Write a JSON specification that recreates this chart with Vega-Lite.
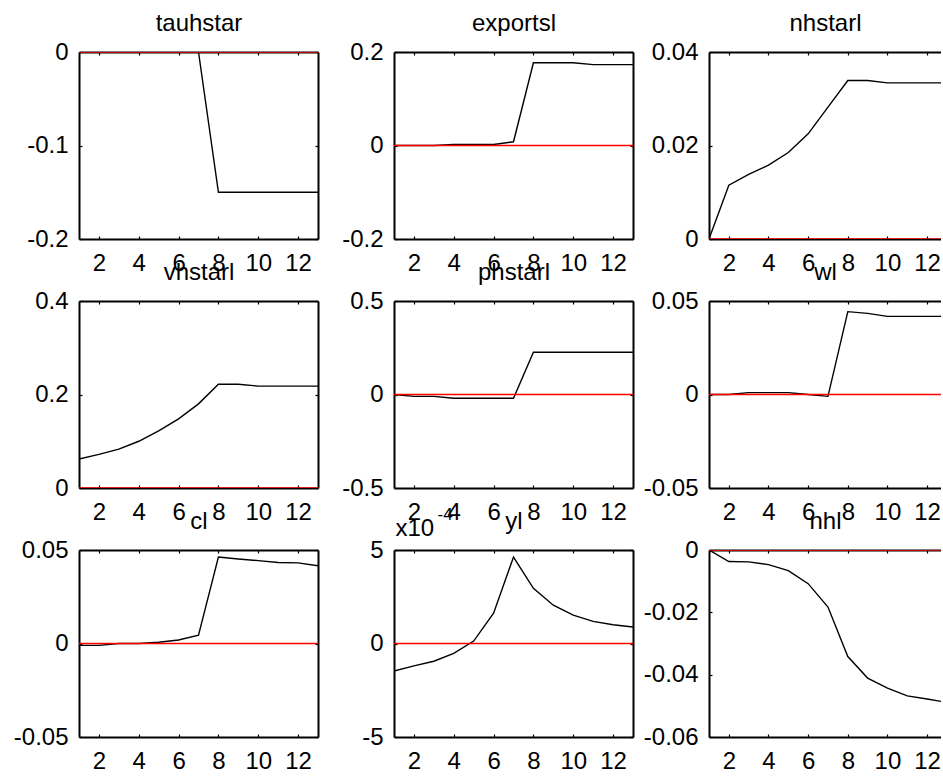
{
  "$schema": "https://vega.github.io/schema/vega-lite/v6.json",
  "padding": {"left": 13, "top": 11, "right": 0, "bottom": 0},
  "background": "white",
  "data": {
    "values": [
      {"t": 1, "tauhstar": 0, "exportsl": 0, "nhstarl": 0, "vhstarl": 0.062, "phstarl": 0, "wl": 0, "cl": -0.001, "yl": -0.000147, "nhl": 0},
      {"t": 2, "tauhstar": 0, "exportsl": 0, "nhstarl": 0.0115, "vhstarl": 0.072, "phstarl": -0.01, "wl": 0, "cl": -0.001, "yl": -0.00012, "nhl": -0.0037},
      {"t": 3, "tauhstar": 0, "exportsl": 0, "nhstarl": 0.0138, "vhstarl": 0.083, "phstarl": -0.01, "wl": 0.001, "cl": 0, "yl": -0.000095, "nhl": -0.0038},
      {"t": 4, "tauhstar": 0, "exportsl": 0.002, "nhstarl": 0.0158, "vhstarl": 0.1, "phstarl": -0.02, "wl": 0.001, "cl": 0, "yl": -0.000053, "nhl": -0.0047},
      {"t": 5, "tauhstar": 0, "exportsl": 0.002, "nhstarl": 0.0185, "vhstarl": 0.122, "phstarl": -0.02, "wl": 0.001, "cl": 0.0007, "yl": 0.000013, "nhl": -0.0066},
      {"t": 6, "tauhstar": 0, "exportsl": 0.002, "nhstarl": 0.0225, "vhstarl": 0.148, "phstarl": -0.02, "wl": 0, "cl": 0.0019, "yl": 0.000162, "nhl": -0.0108},
      {"t": 7, "tauhstar": 0, "exportsl": 0.008, "nhstarl": 0.0282, "vhstarl": 0.18, "phstarl": -0.02, "wl": -0.001, "cl": 0.0044, "yl": 0.000462, "nhl": -0.0183},
      {"t": 8, "tauhstar": -0.15, "exportsl": 0.177, "nhstarl": 0.0339, "vhstarl": 0.222, "phstarl": 0.226, "wl": 0.0443, "cl": 0.0462, "yl": 0.000295, "nhl": -0.0342},
      {"t": 9, "tauhstar": -0.15, "exportsl": 0.177, "nhstarl": 0.0339, "vhstarl": 0.222, "phstarl": 0.226, "wl": 0.0434, "cl": 0.0452, "yl": 0.000205, "nhl": -0.0411},
      {"t": 10, "tauhstar": -0.15, "exportsl": 0.177, "nhstarl": 0.0334, "vhstarl": 0.218, "phstarl": 0.226, "wl": 0.0418, "cl": 0.0443, "yl": 0.000152, "nhl": -0.0443},
      {"t": 11, "tauhstar": -0.15, "exportsl": 0.173, "nhstarl": 0.0334, "vhstarl": 0.218, "phstarl": 0.226, "wl": 0.0418, "cl": 0.0433, "yl": 0.000118, "nhl": -0.0468},
      {"t": 12, "tauhstar": -0.15, "exportsl": 0.173, "nhstarl": 0.0334, "vhstarl": 0.218, "phstarl": 0.226, "wl": 0.0418, "cl": 0.0431, "yl": 0.0001, "nhl": -0.0478},
      {"t": 13, "tauhstar": -0.15, "exportsl": 0.173, "nhstarl": 0.0334, "vhstarl": 0.218, "phstarl": 0.226, "wl": 0.0418, "cl": 0.0416, "yl": 0.000088, "nhl": -0.0489}
    ]
  },
  "columns": 3,
  "spacing": {"row": 62, "column": 76},
  "bounds": "flush",
  "concat": [
    {
      "width": 239, "height": 187,
      "layer": [
        {"mark": {"type": "line", "color": "black", "strokeWidth": 1.4, "clip": true},
         "encoding": {
           "x": {"field": "t", "type": "quantitative", "scale": {"domain": [1, 13]}, "axis": {"orient": "bottom", "title": null, "values": [2, 4, 6, 8, 10, 12]}},
           "y": {"field": "tauhstar", "type": "quantitative", "scale": {"domain": [-0.2, 0], "nice": false, "zero": false}, "axis": {"orient": "left", "title": null, "values": [-0.2, -0.1, 0], "labelExpr": "datum.value + ''"}}}},
        {"mark": {"type": "line", "color": "red", "strokeWidth": 1.6, "clip": true},
         "encoding": {
           "x": {"field": "t", "type": "quantitative", "scale": {"domain": [1, 13]}, "axis": {"orient": "top", "title": "tauhstar", "labels": false, "titleY": -22, "titleBaseline": "alphabetic", "values": [2, 4, 6, 8, 10, 12]}},
           "y": {"datum": 0, "type": "quantitative", "scale": {"domain": [-0.2, 0], "nice": false, "zero": false}, "axis": {"orient": "right", "title": null, "labels": false, "values": [-0.2, -0.1, 0]}}}}
      ],
      "resolve": {"axis": {"x": "independent", "y": "independent"}}
    },
    {
      "width": 239, "height": 187,
      "layer": [
        {"mark": {"type": "line", "color": "black", "strokeWidth": 1.4, "clip": true},
         "encoding": {
           "x": {"field": "t", "type": "quantitative", "scale": {"domain": [1, 13]}, "axis": {"orient": "bottom", "title": null, "values": [2, 4, 6, 8, 10, 12]}},
           "y": {"field": "exportsl", "type": "quantitative", "scale": {"domain": [-0.2, 0.2], "nice": false, "zero": false}, "axis": {"orient": "left", "title": null, "values": [-0.2, 0, 0.2], "labelExpr": "datum.value + ''"}}}},
        {"mark": {"type": "line", "color": "red", "strokeWidth": 1.6, "clip": true},
         "encoding": {
           "x": {"field": "t", "type": "quantitative", "scale": {"domain": [1, 13]}, "axis": {"orient": "top", "title": "exportsl", "labels": false, "titleY": -22, "titleBaseline": "alphabetic", "values": [2, 4, 6, 8, 10, 12]}},
           "y": {"datum": 0, "type": "quantitative", "scale": {"domain": [-0.2, 0.2], "nice": false, "zero": false}, "axis": {"orient": "right", "title": null, "labels": false, "values": [-0.2, 0, 0.2]}}}}
      ],
      "resolve": {"axis": {"x": "independent", "y": "independent"}}
    },
    {
      "width": 232, "height": 187,
      "layer": [
        {"mark": {"type": "line", "color": "black", "strokeWidth": 1.4, "clip": true},
         "encoding": {
           "x": {"field": "t", "type": "quantitative", "scale": {"domain": [1, 12.7]}, "axis": {"orient": "bottom", "title": null, "values": [2, 4, 6, 8, 10, 12]}},
           "y": {"field": "nhstarl", "type": "quantitative", "scale": {"domain": [0, 0.04], "nice": false, "zero": false}, "axis": {"orient": "left", "title": null, "values": [0, 0.02, 0.04], "labelExpr": "datum.value + ''"}}}},
        {"mark": {"type": "line", "color": "red", "strokeWidth": 1.6, "clip": true},
         "encoding": {
           "x": {"field": "t", "type": "quantitative", "scale": {"domain": [1, 12.7]}, "axis": {"orient": "top", "title": "nhstarl", "labels": false, "titleY": -22, "titleBaseline": "alphabetic", "values": [2, 4, 6, 8, 10, 12]}},
           "y": {"datum": 0, "type": "quantitative", "scale": {"domain": [0, 0.04], "nice": false, "zero": false}, "axis": null}}}
      ],
      "resolve": {"axis": {"x": "independent", "y": "independent"}}
    },
    {
      "width": 239, "height": 187,
      "layer": [
        {"mark": {"type": "line", "color": "black", "strokeWidth": 1.4, "clip": true},
         "encoding": {
           "x": {"field": "t", "type": "quantitative", "scale": {"domain": [1, 13]}, "axis": {"orient": "bottom", "title": null, "values": [2, 4, 6, 8, 10, 12]}},
           "y": {"field": "vhstarl", "type": "quantitative", "scale": {"domain": [0, 0.4], "nice": false, "zero": false}, "axis": {"orient": "left", "title": null, "values": [0, 0.2, 0.4], "labelExpr": "datum.value + ''"}}}},
        {"mark": {"type": "line", "color": "red", "strokeWidth": 1.6, "clip": true},
         "encoding": {
           "x": {"field": "t", "type": "quantitative", "scale": {"domain": [1, 13]}, "axis": {"orient": "top", "title": "vhstarl", "labels": false, "titleY": -22, "titleBaseline": "alphabetic", "values": [2, 4, 6, 8, 10, 12]}},
           "y": {"datum": 0, "type": "quantitative", "scale": {"domain": [0, 0.4], "nice": false, "zero": false}, "axis": {"orient": "right", "title": null, "labels": false, "values": [0, 0.2, 0.4]}}}}
      ],
      "resolve": {"axis": {"x": "independent", "y": "independent"}}
    },
    {
      "width": 239, "height": 187,
      "layer": [
        {"mark": {"type": "line", "color": "black", "strokeWidth": 1.4, "clip": true},
         "encoding": {
           "x": {"field": "t", "type": "quantitative", "scale": {"domain": [1, 13]}, "axis": {"orient": "bottom", "title": null, "values": [2, 4, 6, 8, 10, 12]}},
           "y": {"field": "phstarl", "type": "quantitative", "scale": {"domain": [-0.5, 0.5], "nice": false, "zero": false}, "axis": {"orient": "left", "title": null, "values": [-0.5, 0, 0.5], "labelExpr": "datum.value + ''"}}}},
        {"mark": {"type": "line", "color": "red", "strokeWidth": 1.6, "clip": true},
         "encoding": {
           "x": {"field": "t", "type": "quantitative", "scale": {"domain": [1, 13]}, "axis": {"orient": "top", "title": "phstarl", "labels": false, "titleY": -22, "titleBaseline": "alphabetic", "values": [2, 4, 6, 8, 10, 12]}},
           "y": {"datum": 0, "type": "quantitative", "scale": {"domain": [-0.5, 0.5], "nice": false, "zero": false}, "axis": {"orient": "right", "title": null, "labels": false, "values": [-0.5, 0, 0.5]}}}}
      ],
      "resolve": {"axis": {"x": "independent", "y": "independent"}}
    },
    {
      "width": 232, "height": 187,
      "layer": [
        {"mark": {"type": "line", "color": "black", "strokeWidth": 1.4, "clip": true},
         "encoding": {
           "x": {"field": "t", "type": "quantitative", "scale": {"domain": [1, 12.7]}, "axis": {"orient": "bottom", "title": null, "values": [2, 4, 6, 8, 10, 12]}},
           "y": {"field": "wl", "type": "quantitative", "scale": {"domain": [-0.05, 0.05], "nice": false, "zero": false}, "axis": {"orient": "left", "title": null, "values": [-0.05, 0, 0.05], "labelExpr": "datum.value + ''"}}}},
        {"mark": {"type": "line", "color": "red", "strokeWidth": 1.6, "clip": true},
         "encoding": {
           "x": {"field": "t", "type": "quantitative", "scale": {"domain": [1, 12.7]}, "axis": {"orient": "top", "title": "wl", "labels": false, "titleY": -22, "titleBaseline": "alphabetic", "values": [2, 4, 6, 8, 10, 12]}},
           "y": {"datum": 0, "type": "quantitative", "scale": {"domain": [-0.05, 0.05], "nice": false, "zero": false}, "axis": null}}}
      ],
      "resolve": {"axis": {"x": "independent", "y": "independent"}}
    },
    {
      "width": 239, "height": 187,
      "layer": [
        {"mark": {"type": "line", "color": "black", "strokeWidth": 1.4, "clip": true},
         "encoding": {
           "x": {"field": "t", "type": "quantitative", "scale": {"domain": [1, 13]}, "axis": {"orient": "bottom", "title": null, "values": [2, 4, 6, 8, 10, 12]}},
           "y": {"field": "cl", "type": "quantitative", "scale": {"domain": [-0.05, 0.05], "nice": false, "zero": false}, "axis": {"orient": "left", "title": null, "values": [-0.05, 0, 0.05], "labelExpr": "datum.value + ''"}}}},
        {"mark": {"type": "line", "color": "red", "strokeWidth": 1.6, "clip": true},
         "encoding": {
           "x": {"field": "t", "type": "quantitative", "scale": {"domain": [1, 13]}, "axis": {"orient": "top", "title": "cl", "labels": false, "titleY": -22, "titleBaseline": "alphabetic", "values": [2, 4, 6, 8, 10, 12]}},
           "y": {"datum": 0, "type": "quantitative", "scale": {"domain": [-0.05, 0.05], "nice": false, "zero": false}, "axis": {"orient": "right", "title": null, "labels": false, "values": [-0.05, 0, 0.05]}}}}
      ],
      "resolve": {"axis": {"x": "independent", "y": "independent"}}
    },
    {
      "width": 239, "height": 187,
      "layer": [
        {"mark": {"type": "line", "color": "black", "strokeWidth": 1.4, "clip": true},
         "encoding": {
           "x": {"field": "t", "type": "quantitative", "scale": {"domain": [1, 13]}, "axis": {"orient": "bottom", "title": null, "values": [2, 4, 6, 8, 10, 12]}},
           "y": {"field": "yl", "type": "quantitative", "scale": {"domain": [-0.0005, 0.0005], "nice": false, "zero": false}, "axis": {"orient": "left", "title": "x10", "titleAngle": 0, "titleAlign": "left", "titleBaseline": "alphabetic", "titleX": 1, "titleY": -15, "values": [-0.0005, 0, 0.0005], "labelExpr": "round(datum.value * 10000) + ''"}}}},
        {"mark": {"type": "line", "color": "red", "strokeWidth": 1.6, "clip": true},
         "encoding": {
           "x": {"field": "t", "type": "quantitative", "scale": {"domain": [1, 13]}, "axis": {"orient": "top", "title": "yl", "labels": false, "titleY": -22, "titleBaseline": "alphabetic", "values": [2, 4, 6, 8, 10, 12]}},
           "y": {"datum": 0, "type": "quantitative", "scale": {"domain": [-0.0005, 0.0005], "nice": false, "zero": false}, "axis": {"orient": "right", "title": "-4", "titleFontSize": 17, "titleAngle": 0, "titleAlign": "left", "titleBaseline": "alphabetic", "titleX": -196, "titleY": -31, "labels": false, "values": [-0.0005, 0, 0.0005]}}}}
      ],
      "resolve": {"axis": {"x": "independent", "y": "independent"}}
    },
    {
      "width": 232, "height": 187,
      "layer": [
        {"mark": {"type": "line", "color": "black", "strokeWidth": 1.4, "clip": true},
         "encoding": {
           "x": {"field": "t", "type": "quantitative", "scale": {"domain": [1, 12.7]}, "axis": {"orient": "bottom", "title": null, "values": [2, 4, 6, 8, 10, 12]}},
           "y": {"field": "nhl", "type": "quantitative", "scale": {"domain": [-0.06, 0], "nice": false, "zero": false}, "axis": {"orient": "left", "title": null, "values": [-0.06, -0.04, -0.02, 0], "labelExpr": "datum.value + ''"}}}},
        {"mark": {"type": "line", "color": "red", "strokeWidth": 1.6, "clip": true},
         "encoding": {
           "x": {"field": "t", "type": "quantitative", "scale": {"domain": [1, 12.7]}, "axis": {"orient": "top", "title": "nhl", "labels": false, "titleY": -22, "titleBaseline": "alphabetic", "values": [2, 4, 6, 8, 10, 12]}},
           "y": {"datum": 0, "type": "quantitative", "scale": {"domain": [-0.06, 0], "nice": false, "zero": false}, "axis": null}}}
      ],
      "resolve": {"axis": {"x": "independent", "y": "independent"}}
    }
  ],
  "config": {
    "view": {"stroke": null},
    "axis": {
      "grid": false,
      "domainColor": "black",
      "domainWidth": 2,
      "tickColor": "black",
      "tickWidth": 1.2,
      "tickSize": -3,
      "labelFont": "Liberation Sans",
      "labelFontSize": 24,
      "labelColor": "black",
      "labelFlush": false,
      "labelOverlap": false,
      "titleFont": "Liberation Sans",
      "titleFontSize": 24,
      "titleFontWeight": "normal",
      "titleColor": "black"
    },
    "axisBottom": {"labelPadding": 34, "labelBaseline": "alphabetic"},
    "axisLeft": {"labelPadding": 14}
  }
}
